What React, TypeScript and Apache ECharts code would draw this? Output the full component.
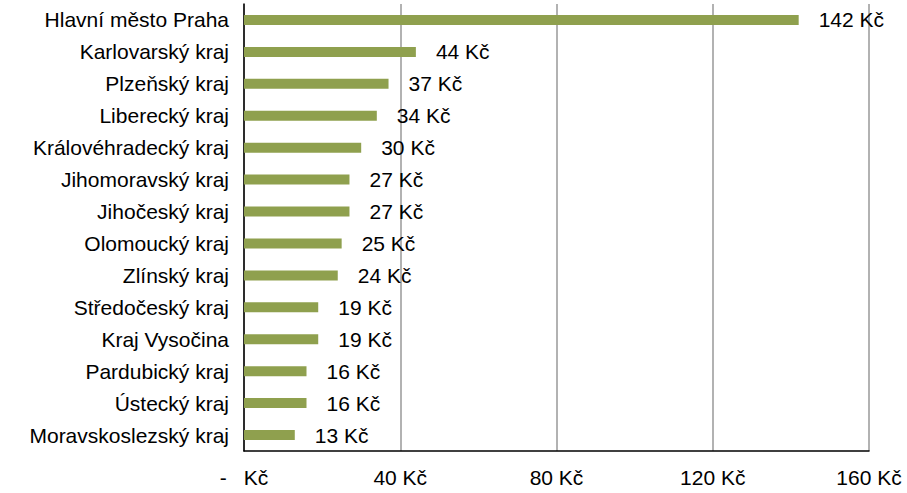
import React, { useEffect, useRef } from "react";
import * as echarts from "echarts";

const categories = [
  "Hlavní město Praha",
  "Karlovarský kraj",
  "Plzeňský kraj",
  "Liberecký kraj",
  "Královéhradecký kraj",
  "Jihomoravský kraj",
  "Jihočeský kraj",
  "Olomoucký kraj",
  "Zlínský kraj",
  "Středočeský kraj",
  "Kraj Vysočina",
  "Pardubický kraj",
  "Ústecký kraj",
  "Moravskoslezský kraj",
];
const values = [142, 44, 37, 34, 30, 27, 27, 25, 24, 19, 19, 16, 16, 13];
const xTicks = [0, 40, 80, 120, 160];

export default function App() {
  const ref = useRef<HTMLDivElement>(null);
  useEffect(() => {
    if (!ref.current) return;
    const chart = echarts.init(ref.current, undefined, { renderer: "svg" });
    const font = "Arial, 'Liberation Sans', sans-serif";
    const fs = 21;
    chart.setOption({
      animation: false,
      grid: { left: 244, right: 38, top: 4, bottom: 42, containLabel: false },
      xAxis: {
        type: "value",
        min: xTicks[0],
        max: xTicks[xTicks.length - 1],
        interval: 40,
        axisLine: { show: true, lineStyle: { color: "#000", width: 1.5 } },
        axisTick: { show: false },
        splitLine: { show: true, lineStyle: { color: "#999", width: 1.5 } },
        axisLabel: {
          margin: 16,
          color: "#000",
          fontSize: fs,
          fontFamily: font,
          formatter: (v: number) => (v === 0 ? "{a|-}{b|Kč}" : `${v} Kč`),
          rich: {
            a: { width: 24, align: "left", fontSize: fs, fontFamily: font, color: "#000" },
            b: { fontSize: fs, fontFamily: font, color: "#000" },
          },
        },
      },
      yAxis: {
        type: "category",
        data: categories,
        inverse: true,
        axisLine: { show: true, lineStyle: { color: "#000", width: 1.5 } },
        axisTick: { show: false },
        axisLabel: { margin: 15, color: "#000", fontSize: fs, fontFamily: font },
      },
      series: [
        {
          type: "bar",
          data: values,
          barWidth: 10,
          itemStyle: { color: "#8fa04e" },
          label: {
            show: true,
            position: "right",
            distance: 20,
            color: "#000",
            fontSize: fs,
            fontFamily: font,
            formatter: (p: any) => `${p.value} Kč`,
          },
        },
      ],
    });
    return () => chart.dispose();
  }, []);
  return (
    <div
      ref={ref}
      style={{ position: "absolute", left: 0, top: 0, width: 907, height: 493 }}
    />
  );
}
